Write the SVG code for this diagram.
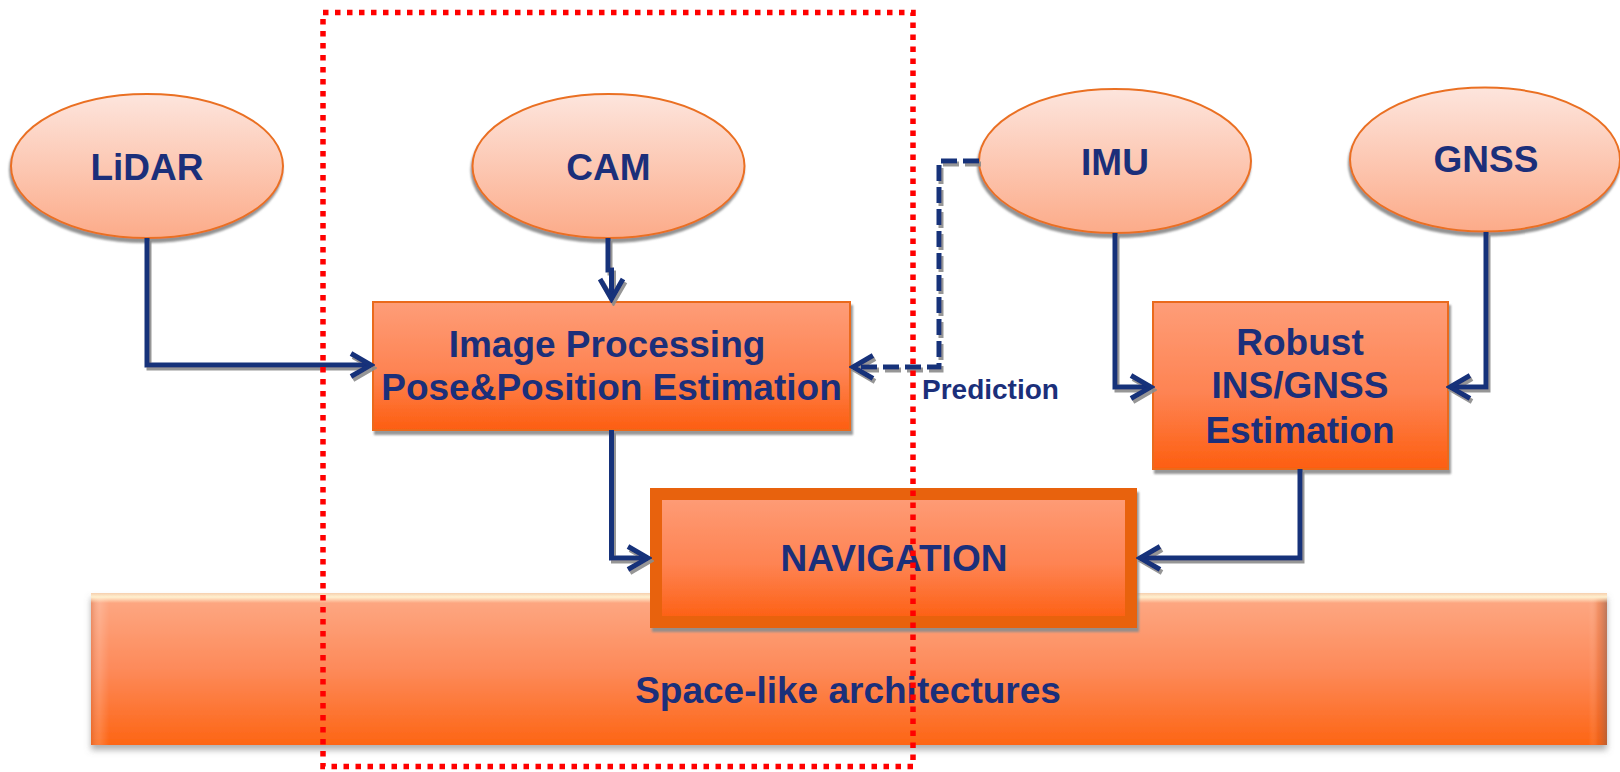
<svg xmlns="http://www.w3.org/2000/svg" width="1620" height="772" viewBox="0 0 1620 772">
  <defs>
    <linearGradient id="gEllipse" x1="0" y1="0" x2="0" y2="1">
      <stop offset="0" stop-color="#fde5dd"/>
      <stop offset="1" stop-color="#fcab89"/>
    </linearGradient>
    <linearGradient id="gBox" x1="0" y1="0" x2="0" y2="1">
      <stop offset="0" stop-color="#fe9d78"/>
      <stop offset="0.55" stop-color="#fe8352"/>
      <stop offset="1" stop-color="#fd5e10"/>
    </linearGradient>
    <linearGradient id="gBar" x1="0" y1="0" x2="0" y2="1">
      <stop offset="0" stop-color="#fdaa86"/>
      <stop offset="0.5" stop-color="#fd8a5a"/>
      <stop offset="1" stop-color="#fd6514"/>
    </linearGradient>
    <linearGradient id="gBarTop" x1="0" y1="0" x2="0" y2="1">
      <stop offset="0" stop-color="#f6cfae"/>
      <stop offset="0.4" stop-color="#fff0cf"/>
      <stop offset="1" stop-color="#fff0cf" stop-opacity="0"/>
    </linearGradient>
    <linearGradient id="gBarSide" x1="0" y1="0" x2="1" y2="0">
      <stop offset="0" stop-color="#c9653c" stop-opacity="0.35"/>
      <stop offset="0.006" stop-color="#ffffff" stop-opacity="0.15"/>
      <stop offset="0.012" stop-color="#ffffff" stop-opacity="0"/>
      <stop offset="0.988" stop-color="#ffffff" stop-opacity="0"/>
      <stop offset="0.994" stop-color="#d05a20" stop-opacity="0.25"/>
      <stop offset="1" stop-color="#8e5a45" stop-opacity="0.6"/>
    </linearGradient>
    <filter id="shEllipse" x="-10%" y="-10%" width="120%" height="130%">
      <feDropShadow dx="-1" dy="4" stdDeviation="1" flood-color="#7f7f7f" flood-opacity="0.85"/>
    </filter>
    <filter id="shBox" x="-5%" y="-5%" width="110%" height="115%">
      <feDropShadow dx="2" dy="4" stdDeviation="0.8" flood-color="#8c8c8c" flood-opacity="0.9"/>
    </filter>
    <filter id="shBar" x="-2%" y="-10%" width="104%" height="125%">
      <feDropShadow dx="0" dy="5" stdDeviation="3" flood-color="#6f6f6f" flood-opacity="0.55"/>
    </filter>
    <filter id="shLine" x="-10%" y="-10%" width="120%" height="120%">
      <feDropShadow dx="2" dy="3" stdDeviation="0.7" flood-color="#8a8a8a" flood-opacity="0.9"/>
    </filter>
    <marker id="chevron" viewBox="-24 -14 28 28" refX="0" refY="0" markerWidth="28" markerHeight="28" markerUnits="userSpaceOnUse" orient="auto">
      <path d="M-20 -11.5 L0 0 L-20 11.5" fill="none" stroke="#16307a" stroke-width="5" stroke-linejoin="miter"/>
    </marker>
    <style>
      .lbl { font-family: "Liberation Sans", Arial, sans-serif; font-weight: bold; fill: #1b2f7a; text-anchor: middle; }
      .sensor { fill: url(#gEllipse); stroke: #ea7024; stroke-width: 2; filter: url(#shEllipse); }
      .box { fill: url(#gBox); stroke: #ea6a1c; stroke-width: 2; filter: url(#shBox); }
      .conn { fill: none; stroke: #16307a; stroke-width: 5; stroke-linejoin: miter; marker-end: url(#chevron); }
      .dash { stroke-dasharray: 16 6; }
    </style>
  </defs>

  <rect width="1620" height="772" fill="#ffffff"/>

  <!-- platform bar -->
  <g id="space-bar">
    <rect x="91" y="593" width="1516" height="152" fill="url(#gBar)" filter="url(#shBar)"/>
    <rect x="91" y="593" width="1516" height="152" fill="url(#gBarSide)"/>
    <rect x="91" y="593" width="1516" height="10" fill="url(#gBarTop)"/>
    <text class="lbl" x="848" y="703" font-size="37">Space-like architectures</text>
  </g>

  <!-- sensors -->
  <g id="lidar">
    <ellipse class="sensor" cx="147" cy="166" rx="136" ry="72"/>
    <text class="lbl" x="147" y="180" font-size="37">LiDAR</text>
  </g>
  <g id="cam">
    <ellipse class="sensor" cx="608.5" cy="166" rx="136" ry="72"/>
    <text class="lbl" x="608.5" y="180" font-size="37">CAM</text>
  </g>
  <g id="imu">
    <ellipse class="sensor" cx="1115" cy="161" rx="136" ry="72"/>
    <text class="lbl" x="1115" y="175" font-size="37">IMU</text>
  </g>
  <g id="gnss">
    <ellipse class="sensor" cx="1485" cy="159.5" rx="135" ry="72"/>
    <text class="lbl" x="1486" y="172" font-size="37">GNSS</text>
  </g>

  <!-- processing blocks -->
  <g id="image-processing">
    <rect class="box" x="373" y="302" width="477" height="128"/>
    <text class="lbl" x="607" y="357" font-size="37">Image Processing</text>
    <text class="lbl" x="611.5" y="400" font-size="37">Pose&amp;Position Estimation</text>
  </g>
  <g id="ins-gnss">
    <rect class="box" x="1153" y="302" width="295" height="167"/>
    <text class="lbl" x="1300" y="355" font-size="37">Robust</text>
    <text class="lbl" x="1300" y="398" font-size="37">INS/GNSS</text>
    <text class="lbl" x="1300" y="443" font-size="37">Estimation</text>
  </g>
  <g id="navigation">
    <rect x="656" y="494" width="475" height="128" fill="url(#gBox)" stroke="#e8620e" stroke-width="12" filter="url(#shBox)"/>
    <text class="lbl" x="894" y="571" font-size="37">NAVIGATION</text>
  </g>

  <!-- connectors -->
  <g id="connectors">
    <g filter="url(#shLine)">
      <path class="conn" d="M147 238 V365 H371"/>
      <path class="conn" d="M608 238 V270 H611.5 V299"/>
      <path class="conn dash" d="M979 161 H939 V367 H853"/>
      <path class="conn" d="M1115 233 V387 H1151"/>
      <path class="conn" d="M1486 232 V387 H1450"/>
      <path class="conn" d="M611.5 430 V558 H648"/>
      <path class="conn" d="M1300 469 V558 H1140"/>
    </g>
    <text x="922" y="399" font-family="Liberation Sans, Arial, sans-serif" font-weight="bold" font-size="28" fill="#1b2f7a">Prediction</text>
  </g>

  <!-- grouping outline -->
  <rect id="vision-frame" x="323" y="12.5" width="590" height="754" fill="none" stroke="#ff0000" stroke-width="5.5" stroke-dasharray="5.5 6.5"/>
</svg>
